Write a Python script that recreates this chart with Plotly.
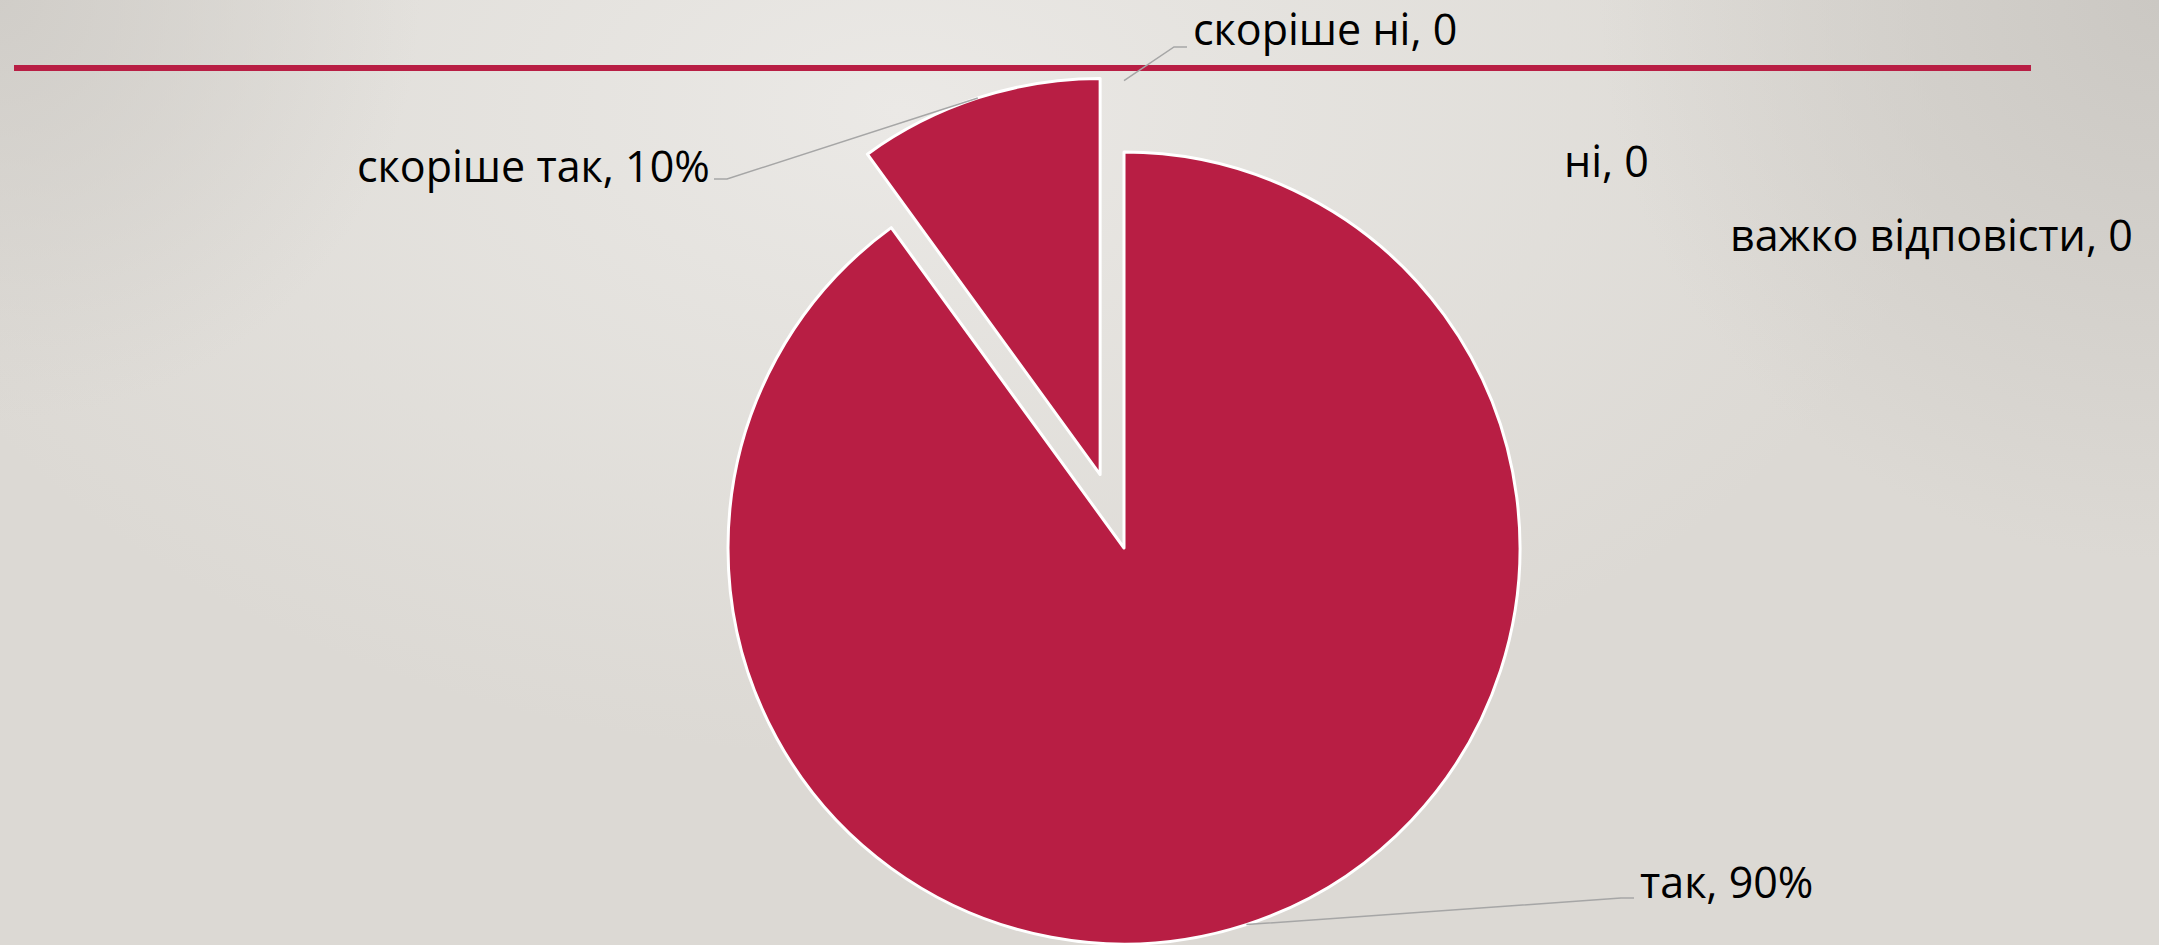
import math
import base64
import plotly.graph_objects as go

# ---- data ----
categories = ["так", "скоріше так", "скоріше ні", "ні", "важко відповісти"]
values = [90, 10, 0, 0, 0]

# ---- style ----
W, H = 2159, 945
RED = "#b81e44"
FONT = "Open Sans"
FSIZE = 43
CX, CY, R = 1124, 548, 396          # main pie centre / radius in px
PULLS = [0, 0.195, 0.18, 0, 0]      # explode fraction per slice
# label anchor (x, y centre, xanchor)
LABEL_POS = [(1639, 881, "left"), (711, 165, "right"), (1192, 29, "left"),
             (1563, 160, "left"), (1729, 234, "left")]
# where leader lines leave the label (None = no leader)
LEADER_TAIL = [(1634, 898), (714, 179), (1187, 47), None, None]
ELBOW = 13

total = sum(values)
label_text = [f"{c}, {round(v / total * 100)}%" if v > 0 else f"{c}, 0"
              for c, v in zip(categories, values)]

# slice mid angles (clockwise from 12 o'clock)
mids = []
cum = 0
for v in values:
    mids.append((cum + v / 2) / total * 2 * math.pi)
    cum += v


def dom(cx, cy, r):
    return dict(x=[(cx - r) / W, (cx + r) / W],
                y=[1 - (cy + r) / H, 1 - (cy - r) / H])


def px(x, y):
    return x / W, 1 - y / H


fig = go.Figure()

# main (unexploded) slices
fig.add_trace(go.Pie(
    labels=categories, values=values, sort=False, direction="clockwise",
    rotation=0, textinfo="none", hoverinfo="label+percent", showlegend=False,
    marker=dict(colors=[RED if p == 0 and v > 0 else "rgba(0,0,0,0)"
                        for p, v in zip(PULLS, values)],
                line=dict(color="white",
                          width=[3 if p == 0 and v > 0 else 0 for p, v in zip(PULLS, values)])),
    domain=dom(CX, CY, R),
))

# exploded slice(s)
for i, (p, v) in enumerate(zip(PULLS, values)):
    if p > 0 and v > 0:
        ox = R * p * math.sin(mids[i])
        oy = -R * p * math.cos(mids[i])
        fig.add_trace(go.Pie(
            labels=categories, values=values, sort=False, direction="clockwise",
            rotation=0, textinfo="none", hoverinfo="label+percent", showlegend=False,
            marker=dict(colors=[RED if j == i else "rgba(0,0,0,0)" for j in range(len(values))],
                        line=dict(color="white",
                                  width=[3 if j == i else 0 for j in range(len(values))])),
            domain=dom(CX + ox, CY + oy, R),
        ))

# labels
annotations = []
for i, txt in enumerate(label_text):
    lx, ly, xa = LABEL_POS[i]
    x, y = px(lx, ly)
    annotations.append(dict(
        x=x, y=y, xref="paper", yref="paper", text=txt, showarrow=False,
        xanchor=xa, yanchor="middle", borderpad=0,
        font=dict(family=FONT, size=FSIZE, color="#000000"),
    ))

# leader lines (head points computed from slice geometry)
shapes = []
for i, tail in enumerate(LEADER_TAIL):
    if tail is None:
        continue
    rr = R * (1 + PULLS[i])
    hx = CX + rr * math.sin(mids[i])
    hy = CY - rr * math.cos(mids[i])
    tx, ty = tail
    ex = tx + (ELBOW if hx > tx else -ELBOW)
    p0, p1, p2 = px(tx, ty), px(ex, ty), px(hx, hy)
    shapes.append(dict(
        type="path", xref="paper", yref="paper",
        path=f"M {p0[0]},{p0[1]} L {p1[0]},{p1[1]} L {p2[0]},{p2[1]}",
        line=dict(color="#a6a6a6", width=1.5), layer="above"))

# red rule
shapes.append(dict(type="line", xref="paper", yref="paper",
                   x0=14 / W, x1=2031 / W, y0=1 - 68 / H, y1=1 - 68 / H,
                   line=dict(color=RED, width=6), layer="below"))

# background gradient as an SVG image
svg = (
    f"<svg xmlns='http://www.w3.org/2000/svg' width='{W}' height='{H}' "
    f"viewBox='0 0 {W} {H}' preserveAspectRatio='none'><defs>"
    "<radialGradient id='hl' gradientUnits='userSpaceOnUse' cx='900' cy='110' r='1050' "
    "gradientTransform='translate(900 110) scale(1 0.62) translate(-900 -110)'>"
    "<stop offset='0' stop-color='#ebe9e6' stop-opacity='1'/>"
    "<stop offset='0.5' stop-color='#e6e4e0' stop-opacity='0.7'/>"
    "<stop offset='1' stop-color='#e6e4e0' stop-opacity='0'/></radialGradient>"
    "<radialGradient id='tl' gradientUnits='userSpaceOnUse' cx='0' cy='0' r='420'>"
    "<stop offset='0' stop-color='#cfccc7' stop-opacity='0.9'/>"
    "<stop offset='1' stop-color='#cfccc7' stop-opacity='0'/></radialGradient>"
    "<radialGradient id='tr' gradientUnits='userSpaceOnUse' cx='2159' cy='0' r='560'>"
    "<stop offset='0' stop-color='#cbc8c3' stop-opacity='1'/>"
    "<stop offset='1' stop-color='#cbc8c3' stop-opacity='0'/></radialGradient>"
    "</defs>"
    f"<rect width='{W}' height='{H}' fill='#dcd9d4'/>"
    f"<rect width='{W}' height='{H}' fill='url(#hl)'/>"
    f"<rect width='{W}' height='{H}' fill='url(#tl)'/>"
    f"<rect width='{W}' height='{H}' fill='url(#tr)'/></svg>"
)
src = "data:image/svg+xml;base64," + base64.b64encode(svg.encode()).decode()

fig.update_layout(
    width=W, height=H,
    margin=dict(l=0, r=0, t=0, b=0),
    paper_bgcolor="#dcd9d4", plot_bgcolor="rgba(0,0,0,0)",
    annotations=annotations,
    images=[dict(source=src, xref="paper", yref="paper", x=0, y=1,
                 sizex=1, sizey=1, sizing="stretch", layer="below",
                 xanchor="left", yanchor="top")],
    shapes=shapes,
)

fig.write_html("out.html", config={"displayModeBar": False},
               post_script="document.body.style.margin='0';")
